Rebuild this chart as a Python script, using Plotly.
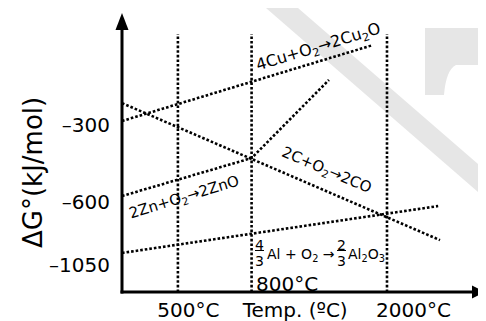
import plotly.graph_objects as go

# ---------------- data (schematic units: x 0-100 along Temp axis, y 0-100 along ΔG axis)
ref_x = [15.4, 35.7, 73.0]          # vertical reference lines: 500°C, 800°C, 2000°C
ref_top = 92.5
cu_x = [0, 69.1]
cu_y = [61.3, 88.5]
co_x = [0, 87.6]
co_y = [67.7, 18.6]
zn_x = [0, 35.7, 57.0]
zn_y = [34.4, 48.0, 76.0]
al_x = [0, 87.1]
al_y = [14.0, 30.8]
y_tick_vals = [59.9, 32.4, 9.7]
y_tick_text = ["–300", "–600", "–1050"]
x_tick_vals = [18.3, 47.7, 80.3]
x_tick_text = ["500°C", "Temp. (ºC)", "2000°C"]

# ---------------- layout geometry (page pixels; the page body has an 8px margin)
OFF = 8
W, H = 486 - OFF, 321 - OFF
L, R, T, B = 122 - OFF, 1, 13 - OFF, 29
PW, PH = W - L - R, H - T - B
FONT = "DejaVu Sans"


def px(p):
    return (p - OFF - L) / PW


def py(p):
    return (H - B - (p - OFF)) / PH


DOT = dict(color="black", width=2.6, dash="2.6px,2px")

fig = go.Figure()
for v in ref_x:
    fig.add_trace(go.Scatter(x=[v, v], y=[0, ref_top], mode="lines", line=DOT,
                             hoverinfo="skip", showlegend=False))
for xs, ys in [(cu_x, cu_y), (co_x, co_y), (zn_x, zn_y), (al_x, al_y)]:
    fig.add_trace(go.Scatter(x=xs, y=ys, mode="lines", line=DOT,
                             hoverinfo="skip", showlegend=False))


def path(points):
    return "M " + " L ".join(f"{px(a):.5f},{py(b):.5f}" for a, b in points) + " Z"


shapes = []
GRAY = "#e6e6e6"
# watermark band and block (background)
shapes.append(dict(type="path", xref="paper", yref="paper", layer="below",
                   path=path([(266, 8), (298, 8), (486, 171), (486, 199), (266, 8)]),
                   fillcolor=GRAY, line=dict(width=0)))
shapes.append(dict(type="path", xref="paper", yref="paper", layer="below",
                   path=(f"M {px(425):.5f},{py(28):.5f} L {px(486):.5f},{py(28):.5f} "
                         f"L {px(486):.5f},{py(65):.5f} L {px(456):.5f},{py(65):.5f} "
                         f"Q {px(446):.5f},{py(70):.5f} {px(444):.5f},{py(95):.5f} "
                         f"L {px(425):.5f},{py(95):.5f} Z"),
                   fillcolor=GRAY, line=dict(width=0)))
# axes with arrows
shapes.append(dict(type="line", xref="paper", yref="paper",
                   x0=px(122), y0=py(293.5), x1=px(122), y1=py(29),
                   line=dict(color="black", width=3)))
shapes.append(dict(type="line", xref="paper", yref="paper",
                   x0=px(120.5), y0=py(292), x1=px(473), y1=py(292),
                   line=dict(color="black", width=3)))
shapes.append(dict(type="path", xref="paper", yref="paper",
                   path=path([(122, 13), (128.5, 30), (115.5, 30)]),
                   fillcolor="black", line=dict(width=0)))
shapes.append(dict(type="path", xref="paper", yref="paper",
                   path=path([(485, 292), (472, 285.5), (472, 298.5)]),
                   fillcolor="black", line=dict(width=0)))
# fraction bars
for a, b in [(255, 264), (337, 346)]:
    shapes.append(dict(type="line", xref="paper", yref="paper",
                       x0=px(a), x1=px(b), y0=py(250.5), y1=py(250.5),
                       line=dict(color="black", width=1)))

ann = []


def label(text, x, y, size, angle=0, xanchor="center"):
    ann.append(dict(text=text, x=px(x), y=py(y), xref="paper", yref="paper",
                    showarrow=False, textangle=angle, xanchor=xanchor,
                    yanchor="middle", font=dict(family=FONT, size=size, color="black")))


label("ΔG°(kJ/mol)", 33, 173, 26, angle=-90)
label("4Cu+O<sub>2</sub>→2Cu<sub>2</sub>O", 318, 48, 16, angle=-17)
label("2C+O<sub>2</sub>→2CO", 327, 170, 15, angle=23)
label("2Zn+O<sub>2</sub>→2ZnO", 184, 197, 15, angle=-17)
label("800°C", 254, 284, 20, xanchor="left")
label("4", 259.5, 245, 14)
label("3", 259.5, 260.5, 14)
label("Al + O<sub>2</sub> →", 265, 255, 14, xanchor="left")
label("2", 341.5, 245, 14)
label("3", 341.5, 260.5, 14)
label("Al<sub>2</sub>O<sub>3</sub>", 346, 255, 14, xanchor="left")

fig.update_layout(
    width=W, height=H,
    margin=dict(l=L, r=R, t=T, b=B, pad=0, autoexpand=False),
    paper_bgcolor="white", plot_bgcolor="rgba(0,0,0,0)",
    font=dict(family=FONT, color="black"),
    shapes=shapes, annotations=ann, showlegend=False,
    xaxis=dict(range=[0, 100], showgrid=False, zeroline=False, showline=False,
               tickvals=x_tick_vals, ticktext=x_tick_text, ticks="",
               ticklabelstandoff=4, automargin=False,
               tickfont=dict(family=FONT, size=20), fixedrange=True),
    yaxis=dict(range=[0, 100], showgrid=False, zeroline=False, showline=False,
               tickvals=y_tick_vals, ticktext=y_tick_text, ticks="",
               ticklabelstandoff=11, automargin=False,
               tickfont=dict(family=FONT, size=20), fixedrange=True),
)

fig.write_html("out.html")
